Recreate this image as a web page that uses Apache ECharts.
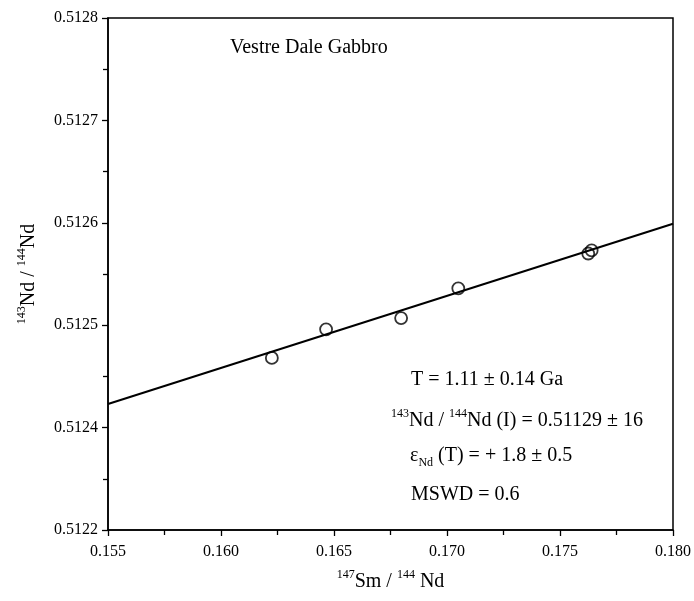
<!DOCTYPE html>
<html>
<head>
<meta charset="utf-8">
<script src="https://cdn.jsdelivr.net/npm/echarts@6/dist/echarts.min.js"></script>
<style>
html,body{margin:0;padding:0;background:#fff;}
#chart{width:694px;height:601px;}
</style>
</head>
<body>
<div id="chart"></div>
<script>
// ---- data ----
const sampleX = [0.16225, 0.16465, 0.16797, 0.17050, 0.17625, 0.17640];
const sampleY = [0.512468, 0.512496, 0.512507, 0.512536, 0.512570, 0.512573];
const fitX = [0.155, 0.180];
const fitY = [0.512423, 0.512599];
const xMin = 0.155, xMax = 0.180, xStep = 0.005;
const yMin = 0.5123, yMax = 0.5128, yStep = 0.0001;
const xTickLabels = ['0.155', '0.160', '0.165', '0.170', '0.175', '0.180'];
const yTickLabels = ['0.5122', '0.5124', '0.5125', '0.5126', '0.5127', '0.5128'];
const titleText = 'Vestre Dale Gabbro';
const statLines = [
  'T = 1.11 \u00b1 0.14 Ga',
  '{sup|143}Nd / {sup|144}Nd (I) = 0.51129 \u00b1 16',
  '\u03b5{sub|Nd} (T) = + 1.8 \u00b1 0.5',
  'MSWD = 0.6'
];

const FONT = '"Liberation Serif", "Times New Roman", serif';
const chart = echarts.init(document.getElementById('chart'));
const supRich = {
  main: {fontFamily: FONT, fontSize: 20, lineHeight: 26, color: '#000'},
  sup: {fontFamily: FONT, fontSize: 12, lineHeight: 12, verticalAlign: 'top', color: '#000'},
  sub: {fontFamily: FONT, fontSize: 12, lineHeight: 12, verticalAlign: 'bottom', color: '#000'}
};

function idx(v, min, step){ return Math.round((v - min) / step); }

const option = {
  backgroundColor: '#fff',
  animation: false,
  grid: {left: 108, right: 16, top: 18, bottom: 71, show: true, borderColor: '#000', borderWidth: 1.5, backgroundColor: 'transparent'},
  xAxis: {
    type: 'value', min: xMin, max: xMax, interval: xStep,
    name: '{sup|147}{main|Sm / }{sup|144}{main| Nd}',
    nameLocation: 'middle', nameGap: 39,
    nameTextStyle: {rich: supRich, fontFamily: FONT, fontSize: 20, color: '#000'},
    axisLine: {show: true, lineStyle: {color: '#000', width: 1.5}},
    axisTick: {show: true, inside: false, length: 6, lineStyle: {color: '#000', width: 1.3}},
    minorTick: {show: true, splitNumber: 2, length: 5, lineStyle: {color: '#000', width: 1.3}},
    splitLine: {show: false},
    axisLabel: {margin: 14, fontFamily: FONT, fontSize: 16, color: '#000',
      formatter: v => xTickLabels[idx(v, xMin, xStep)]}
  },
  yAxis: {
    type: 'value', min: yMin, max: yMax, interval: yStep,
    name: '{sup|143}{main|Nd / }{sup|144}{main|Nd}',
    nameLocation: 'middle', nameGap: 66, nameRotate: 90,
    nameTextStyle: {rich: supRich, fontFamily: FONT, fontSize: 20, color: '#000'},
    axisLine: {show: true, lineStyle: {color: '#000', width: 1.5}},
    axisTick: {show: true, inside: false, length: 6, lineStyle: {color: '#000', width: 1.3}},
    minorTick: {show: true, splitNumber: 2, length: 5, lineStyle: {color: '#000', width: 1.3}},
    splitLine: {show: false},
    axisLabel: {margin: 10, fontFamily: FONT, fontSize: 16, color: '#000',
      formatter: v => yTickLabels[idx(v, yMin, yStep)]}
  },
  series: [
    {
      type: 'line', data: fitX.map((x, i) => [x, fitY[i]]),
      symbol: 'none', lineStyle: {color: '#000', width: 2}, z: 2, silent: true
    },
    {
      type: 'scatter', data: sampleX.map((x, i) => [x, sampleY[i]]),
      symbol: 'circle', symbolSize: 12,
      itemStyle: {color: 'rgba(0,0,0,0)', borderColor: '#000', borderWidth: 1.8}, z: 3
    }
  ],
  graphic: [
    {type: 'text', left: 230, top: 38, style: {text: titleText, font: '20px ' + FONT, fill: '#000'}},
    {type: 'text', left: 411, top: 370, style: {text: statLines[0], font: '20px ' + FONT, fill: '#000'}},
    {type: 'text', left: 391, top: 408, style: {text: '{main|' + statLines[1].replace(/\{sup\|(\d+)\}/g, '}{sup|$1}{main|') + '}', rich: supRich, fill: '#000'}},
    {type: 'text', left: 410, top: 446, style: {text: '{main|' + statLines[2].replace(/\{sub\|(\w+)\}/g, '}{sub|$1}{main|') + '}', rich: supRich, fill: '#000'}},
    {type: 'text', left: 411, top: 485, style: {text: statLines[3], font: '20px ' + FONT, fill: '#000'}}
  ]
};
chart.setOption(option);
</script>
</body>
</html>
